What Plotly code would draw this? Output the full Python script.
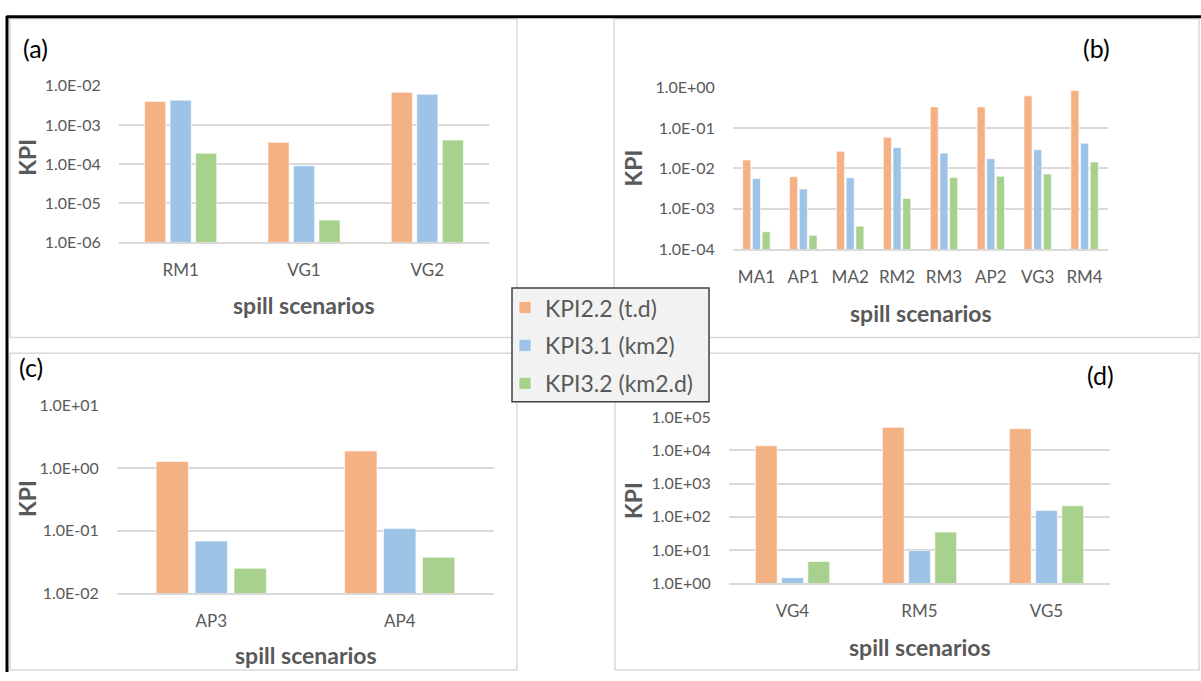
import plotly.graph_objects as go

W, H = 1201, 681

# ---------------- data ----------------
series_names = ["KPI2.2 (t.d)", "KPI3.1 (km2)", "KPI3.2 (km2.d)"]
series_colors = ["#F4B183", "#9DC3E6", "#A9D18E"]

cats_a = ["RM1", "VG1", "VG2"]
kpi22_a = [4.0e-3, 3.6e-4, 6.8e-3]
kpi31_a = [4.3e-3, 9.0e-5, 6.1e-3]
kpi32_a = [1.9e-4, 3.7e-6, 4.1e-4]
ticks_a = [1e-6, 1e-5, 1e-4, 1e-3, 1e-2]
ticktext_a = ["1.0E-06", "1.0E-05", "1.0E-04", "1.0E-03", "1.0E-02"]

cats_b = ["MA1", "AP1", "MA2", "RM2", "RM3", "AP2", "VG3", "RM4"]
kpi22_b = [0.0162, 0.0062, 0.0267, 0.059, 0.336, 0.336, 0.63, 0.85]
kpi31_b = [0.0056, 0.0031, 0.0059, 0.033, 0.0239, 0.0174, 0.0292, 0.0423]
kpi32_b = [2.7e-4, 2.2e-4, 3.7e-4, 1.8e-3, 5.96e-3, 6.4e-3, 7.3e-3, 0.0145]
ticks_b = [1e-4, 1e-3, 1e-2, 1e-1, 1e0]
ticktext_b = ["1.0E-04", "1.0E-03", "1.0E-02", "1.0E-01", "1.0E+00"]

cats_c = ["AP3", "AP4"]
kpi22_c = [1.27, 1.87]
kpi31_c = [0.068, 0.108]
kpi32_c = [0.025, 0.0375]
ticks_c = [1e-2, 1e-1, 1e0, 1e1]
ticktext_c = ["1.0E-02", "1.0E-01", "1.0E+00", "1.0E+01"]

cats_d = ["VG4", "RM5", "VG5"]
kpi22_d = [13800, 49800, 45500]
kpi31_d = [1.47, 9.7, 155]
kpi32_d = [4.5, 34.9, 216]
ticks_d = [1e0, 1e1, 1e2, 1e3, 1e4, 1e5]
ticktext_d = ["1.0E+00", "1.0E+01", "1.0E+02", "1.0E+03", "1.0E+04", "1.0E+05"]

panel_labels = ["(a)", "(b)", "(c)", "(d)"]
x_title = "spill scenarios"
y_title = "KPI"

# ---------------- layout helpers ----------------
def px(x):
    return x / W


def py(y):
    return 1 - y / H


FONT = "Lato"
GRAY = "#595959"
GRID = "#D9D9D9"

panels = [
    (cats_a, [kpi22_a, kpi31_a, kpi32_a], ticks_a, ticktext_a, [-6, -2], (119, 489, 78, 239)),
    (cats_b, [kpi22_b, kpi31_b, kpi32_b], ticks_b, ticktext_b, [-4, 0], (733, 1108, 80, 246)),
    (cats_c, [kpi22_c, kpi31_c, kpi32_c], ticks_c, ticktext_c, [-2, 1], (117, 494, 406.7, 600)),
    (cats_d, [kpi22_d, kpi31_d, kpi32_d], ticks_d, ticktext_d, [0, 5], (729, 1110, 419, 589.7)),
]

fig = go.Figure()
layout = {}
annotations = []
shapes = []

frames = [(10, 9, 517, 337), (614, 9, 1199, 337), (10, 353, 517, 679), (615, 353, 1199, 679)]
for (x0, y0, x1, y1) in frames:
    shapes.append(dict(type="rect", xref="paper", yref="paper", x0=px(x0), x1=px(x1), y0=py(y1), y1=py(y0),
                       line=dict(color=GRID, width=1.5), fillcolor="rgba(0,0,0,0)", layer="below"))
shapes.append(dict(type="line", xref="paper", yref="paper", x0=px(7), x1=px(1201), y0=py(7), y1=py(7),
                   line=dict(color="black", width=3)))
shapes.append(dict(type="line", xref="paper", yref="paper", x0=px(7), x1=px(7), y0=py(681), y1=py(6),
                   line=dict(color="black", width=3)))

ylab_pos = [(27, 152), (633, 163), (27, 503), (633, 505)]
xlab_pos = [(304, 303), (921, 312), (306, 663), (920, 655)]
plab_pos = [(35, 39), (1096, 39), (31, 367), (1100, 375)]

for i, (cats, vals, tv, tt, yr, box) in enumerate(panels):
    n = "" if i == 0 else str(i + 1)
    xa, ya = "x" + n, "y" + n
    x0, x1, yt, yb = box
    for s in range(3):
        fig.add_trace(go.Bar(
            x=cats, y=vals[s], name=series_names[s], xaxis=xa, yaxis=ya,
            marker=dict(color=series_colors[s], line=dict(color="rgba(255,255,255,0.6)", width=1)),
            showlegend=(i == 0), legendgroup=series_names[s]))
    layout["xaxis" + n] = dict(
        domain=[px(x0), px(x1)], anchor=ya, type="category",
        showline=True, linecolor=GRID, linewidth=1.5, showgrid=False, zeroline=False,
        ticks="outside", ticklen=12, tickcolor="rgba(0,0,0,0)",
        tickfont=dict(family=FONT, size=17, color=GRAY), fixedrange=True)
    layout["yaxis" + n] = dict(
        domain=[py(yb), py(yt)], anchor=xa, type="log", range=yr,
        tickvals=tv, ticktext=tt, showgrid=True, gridcolor=GRID, gridwidth=1.5,
        showline=False, zeroline=False,
        ticks="outside", ticklen=14, tickcolor="rgba(0,0,0,0)",
        tickfont=dict(family=FONT, size=16, color=GRAY), fixedrange=True)
    ax, ay = ylab_pos[i]
    annotations.append(dict(text="<b>" + y_title + "</b>", xref="paper", yref="paper", x=px(ax), y=py(ay),
                            showarrow=False, textangle=-90, xanchor="center", yanchor="middle",
                            font=dict(family=FONT, size=23, color=GRAY)))
    bx, by = xlab_pos[i]
    annotations.append(dict(text="<b>" + x_title + "</b>", xref="paper", yref="paper", x=px(bx), y=py(by),
                            showarrow=False, xanchor="center", yanchor="middle",
                            font=dict(family=FONT, size=23, color=GRAY)))
    cx, cy = plab_pos[i]
    annotations.append(dict(text=panel_labels[i], xref="paper", yref="paper", x=px(cx), y=py(cy),
                            showarrow=False, xanchor="center", yanchor="middle",
                            font=dict(family=FONT, size=25, color="black")))

shapes.append(dict(type="rect", xref="paper", yref="paper", x0=px(512), x1=px(709), y0=py(403), y1=py(286),
                   line=dict(color="#404040", width=1.5), fillcolor="#F2F2F2", layer="above"))

fig.update_layout(
    width=W, height=H, margin=dict(l=0, r=0, t=0, b=0),
    paper_bgcolor="white", plot_bgcolor="rgba(0,0,0,0)",
    barmode="group", bargap=0.38, bargroupgap=0.17,
    showlegend=True,
    legend=dict(x=px(505), y=py(284), xanchor="left", yanchor="top", bgcolor="rgba(0,0,0,0)",
                borderwidth=0, font=dict(family=FONT, size=23, color=GRAY), tracegroupgap=5,
                itemclick=False, itemdoubleclick=False),
    annotations=annotations, shapes=shapes,
    **layout)

post = ("document.documentElement.style.margin='0';document.body.style.margin='0';"
        "document.body.style.overflow='hidden';document.documentElement.style.overflow='hidden';"
        "var gd=document.getElementById('{plot_id}');gd.style.position='fixed';"
        "gd.style.top='0px';gd.style.left='0px';")
fig.write_html("out.html", config={"displayModeBar": False}, post_script=post)
